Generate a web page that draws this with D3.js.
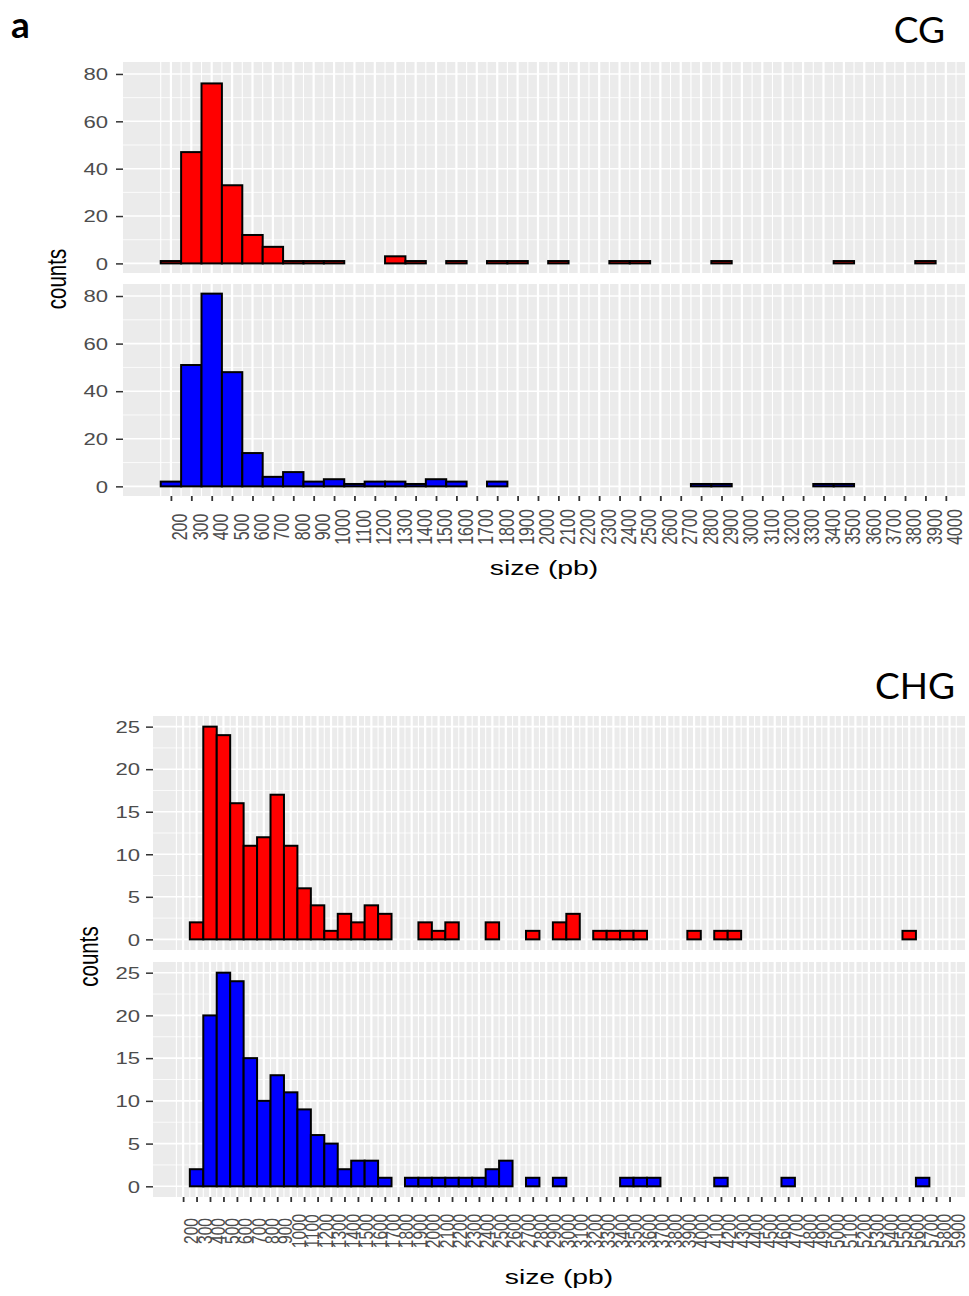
<!DOCTYPE html>
<html>
<head>
<meta charset="utf-8">
<script src="https://cdn.jsdelivr.net/npm/d3@7"></script>
<style>
body { margin: 0; background: #fff; }
</style>
</head>
<body>
<svg id="fig" width="969" height="1296"></svg>
<script>
// CG: bin centres (pb) and counts, red = top panel, blue = bottom panel
const cgBins = [200, 300, 400, 500, 600, 700, 800, 900, 1000, 1100, 1200, 1300, 1400, 1500, 1600, 1700, 1800, 1900, 2000,
    2100, 2200, 2300, 2400, 2500, 2600, 2700, 2800, 2900, 3000, 3100, 3200, 3300, 3400, 3500, 3600, 3700, 3800, 3900];
const cgRed = [1, 47, 76, 33, 12, 7, 1, 1, 1, 0, 0, 3, 1, 0, 1, 0, 1, 1, 0,
    1, 0, 0, 1, 1, 0, 0, 0, 1, 0, 0, 0, 0, 0, 1, 0, 0, 0, 1];
const cgBlue = [2, 51, 81, 48, 14, 4, 6, 2, 3, 1, 2, 2, 1, 3, 2, 0, 2, 0, 0,
    0, 0, 0, 0, 0, 0, 0, 1, 1, 0, 0, 0, 0, 1, 1, 0, 0, 0, 0];
const cgXTicks = d3.range(200, 4001, 100);
const cgYTicks = [0, 20, 40, 60, 80];

// CHG
const chgBins = [300, 400, 500, 600, 700, 800, 900, 1000, 1100, 1200, 1300, 1400, 1500, 1600, 1700, 1800, 1900, 2000,
    2100, 2200, 2300, 2400, 2500, 2600, 2700, 2800, 2900, 3000, 3100, 3200, 3300, 3400, 3500, 3600, 3700, 3800, 3900,
    4000, 4100, 4200, 4300, 4400, 4500, 4600, 4700, 4800, 4900, 5000, 5100, 5200, 5300, 5400, 5500, 5600, 5700];
const chgRed = [2, 25, 24, 16, 11, 12, 17, 11, 6, 4, 1, 3, 2, 4, 3, 0, 0, 2,
    1, 2, 0, 0, 2, 0, 0, 1, 0, 2, 3, 0, 1, 1, 1, 1, 0, 0, 0,
    1, 0, 1, 1, 0, 0, 0, 0, 0, 0, 0, 0, 0, 0, 0, 0, 1, 0];
const chgBlue = [2, 20, 25, 24, 15, 10, 13, 11, 9, 6, 5, 2, 3, 3, 1, 0, 1, 1,
    1, 1, 1, 1, 2, 3, 0, 1, 0, 1, 0, 0, 0, 0, 1, 1, 1, 0, 0,
    0, 0, 1, 0, 0, 0, 0, 1, 0, 0, 0, 0, 0, 0, 0, 0, 0, 1];
const chgXTicks = d3.range(200, 5901, 100);
const chgYTicks = [0, 5, 10, 15, 20, 25];

const stretch = 1.38;   // the figure is squashed wider than tall
const tickFont = "Liberation Sans, Arial, sans-serif";

const svg = d3.select("#fig");

function drawBlock(cfg) {
    const x = d3.scaleLinear().domain(cfg.xDomain).range([cfg.left, cfg.right]);
    const xStep = cfg.xTicks[1] - cfg.xTicks[0];
    const xMinor = cfg.xTicks.map(t => t - xStep / 2).concat([cfg.xTicks[cfg.xTicks.length - 1] + xStep / 2])
        .filter(v => v > cfg.xDomain[0] && v < cfg.xDomain[1]);

    cfg.panels.forEach((p, i) => {
        const y = d3.scaleLinear().domain(cfg.yDomain).range([p.bottom, p.top]);
        const yStep = cfg.yTicks[1] - cfg.yTicks[0];
        const yMinor = cfg.yTicks.map(t => t + yStep / 2).concat([cfg.yTicks[0] - yStep / 2])
            .filter(v => v > cfg.yDomain[0] && v < cfg.yDomain[1]);

        const g = svg.append("g");

        g.append("rect")
            .attr("x", cfg.left)
            .attr("y", p.top)
            .attr("width", cfg.right - cfg.left)
            .attr("height", p.bottom - p.top)
            .attr("fill", "#ebebeb");

        // grid lines, minor then major
        g.selectAll(".ymin").data(yMinor).join("line")
            .attr("x1", cfg.left).attr("x2", cfg.right)
            .attr("y1", d => y(d)).attr("y2", d => y(d))
            .attr("stroke", "#fff").attr("stroke-width", 0.8);
        g.selectAll(".xmin").data(xMinor).join("line")
            .attr("y1", p.top).attr("y2", p.bottom)
            .attr("x1", d => x(d)).attr("x2", d => x(d))
            .attr("stroke", "#fff").attr("stroke-width", 1.1);
        g.selectAll(".ymaj").data(cfg.yTicks).join("line")
            .attr("x1", cfg.left).attr("x2", cfg.right)
            .attr("y1", d => y(d)).attr("y2", d => y(d))
            .attr("stroke", "#fff").attr("stroke-width", 1.6);
        g.selectAll(".xmaj").data(cfg.xTicks).join("line")
            .attr("y1", p.top).attr("y2", p.bottom)
            .attr("x1", d => x(d)).attr("x2", d => x(d))
            .attr("stroke", "#fff").attr("stroke-width", 2.2);

        const data = cfg.bins.map((b, j) => ({size: b, count: p.counts[j]}))
            .filter(d => d.count > 0);

        g.selectAll(".bar").data(data).join("rect")
            .attr("class", "bar")
            .attr("x", d => x(d.size - xStep / 2))
            .attr("width", d => x(d.size + xStep / 2) - x(d.size - xStep / 2))
            .attr("y", d => y(d.count))
            .attr("height", d => y(0) - y(d.count))
            .attr("fill", p.color)
            .attr("stroke", "#000")
            .attr("stroke-width", 2);

        // y axis
        const ya = g.append("g")
            .attr("transform", `translate(${cfg.left},0)`)
            .call(d3.axisLeft(y).tickValues(cfg.yTicks).tickSize(7));
        ya.select(".domain").remove();
        ya.selectAll("line").attr("stroke", "#333").attr("stroke-width", 1.5);
        ya.selectAll("text")
            .attr("x", null)
            .attr("dy", "0.36em")
            .attr("transform", `translate(${-cfg.yLabelGap},0) scale(${stretch},1)`)
            .attr("fill", "#4d4d4d")
            .style("font-family", tickFont)
            .style("font-size", "16px");

        // x axis only under the bottom panel
        if (i === cfg.panels.length - 1) {
            const xa = g.append("g")
                .attr("transform", `translate(0,${p.bottom})`)
                .call(d3.axisBottom(x).tickValues(cfg.xTicks).tickSize(5).tickFormat(d3.format("d")));
            xa.select(".domain").remove();
            xa.selectAll("line").attr("stroke", "#333").attr("stroke-width", 1.8);
            xa.selectAll("text")
                .attr("y", null)
                .attr("dy", "0.72em")
                .attr("text-anchor", "middle")
                .attr("transform", `translate(0,${cfg.xLabelY - p.bottom}) scale(${cfg.xLabelStretch},1) rotate(-90)`)
                .attr("fill", "#4d4d4d")
                .style("font-family", tickFont)
                .style("font-size", cfg.xLabelSize + "px");
        }
    });

    svg.append("text")
        .attr("transform", `translate(${(cfg.left + cfg.right) / 2},${cfg.xTitleY}) scale(${stretch},1)`)
        .attr("text-anchor", "middle")
        .style("font-family", tickFont)
        .style("font-size", "20.5px")
        .text("size (pb)");

    svg.append("text")
        .attr("transform", `translate(${cfg.yTitleX},${(cfg.panels[0].top + cfg.panels[1].bottom) / 2}) scale(${stretch},1) rotate(-90)`)
        .attr("text-anchor", "middle")
        .attr("dy", "0.26em")
        .style("font-family", tickFont)
        .style("font-size", "20.5px")
        .text("counts");

    svg.append("text")
        .attr("x", cfg.labelX)
        .attr("y", cfg.labelY)
        .attr("text-anchor", "end")
        .style("font-family", "Lato, 'Open Sans', sans-serif")
        .style("font-size", "37px")
        .text(cfg.label);
}

drawBlock({
    label: "CG", labelX: 945, labelY: 43,
    bins: cgBins, xTicks: cgXTicks, yTicks: cgYTicks,
    left: 123, right: 965, xDomain: [-35, 4094], yDomain: [-4.05, 85.05],
    panels: [
        {top: 62, bottom: 273, counts: cgRed, color: "#ff0000"},
        {top: 284, bottom: 496, counts: cgBlue, color: "#0000ff"}
    ],
    yLabelGap: 15, xLabelY: 527, xLabelSize: 16, xLabelStretch: stretch, xTitleY: 575, yTitleX: 59
});

drawBlock({
    label: "CHG", labelX: 955, labelY: 699,
    bins: chgBins, xTicks: chgXTicks, yTicks: chgYTicks,
    left: 153, right: 965, xDomain: [-24, 6015], yDomain: [-1.25, 26.25],
    panels: [
        {top: 716, bottom: 950, counts: chgRed, color: "#ff0000"},
        {top: 962, bottom: 1197, counts: chgBlue, color: "#0000ff"}
    ],
    yLabelGap: 13, xLabelY: 1231, xLabelSize: 15.5, xLabelStretch: 1.32, xTitleY: 1284, yTitleX: 91
});

svg.append("text")
    .attr("x", 11)
    .attr("y", 38)
    .style("font-family", "Lato, 'Open Sans', sans-serif")
    .style("font-weight", "bold")
    .style("font-size", "37px")
    .text("a");
</script>
</body>
</html>
